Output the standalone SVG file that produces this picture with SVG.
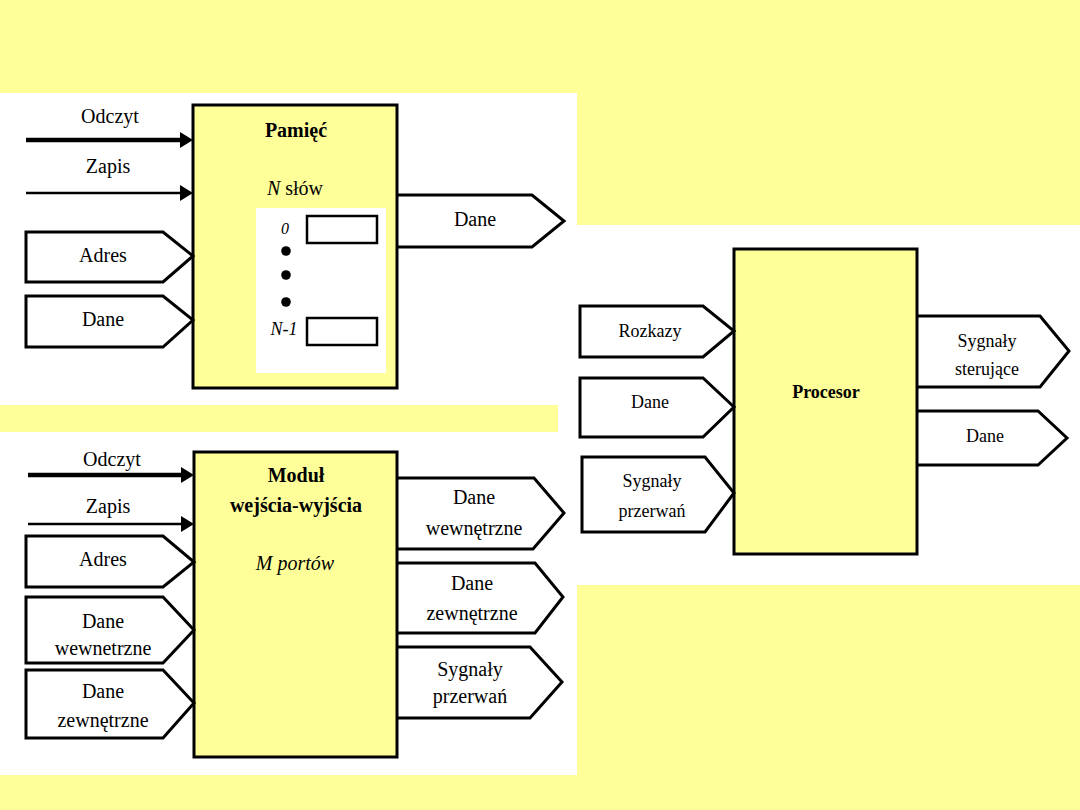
<svg xmlns="http://www.w3.org/2000/svg" width="1080" height="810" viewBox="0 0 1080 810">
<style>
.bg{fill:#FFFF99}
.panel{fill:#FFFFFF}
.box{fill:#FFFF99;stroke:#000;stroke-width:3}
.sig{fill:none;stroke:#000;stroke-width:3;stroke-linejoin:miter}
.cell{fill:#FFFFFF;stroke:#000;stroke-width:2.5}
text{font-family:"Liberation Serif","Times New Roman",serif;fill:#000;text-anchor:middle}
.t20{font-size:20px}
.t18{font-size:18px}
.b{font-weight:bold}
.i{font-style:italic}
.thick{stroke:#000;stroke-width:4.5}
.thin{stroke:#000;stroke-width:2.5}
.head{fill:#000}
</style>
<rect class="bg" x="0" y="0" width="1080" height="810"/>
<rect class="panel" x="0" y="93" width="577" height="682"/>
<rect class="panel" x="577" y="225" width="503" height="360"/>
<rect class="bg" x="0" y="405" width="558" height="27"/>

<g id="memory">
<rect class="box" x="193" y="105" width="204" height="283"/>
<text class="t20 b" x="296" y="137">Pamięć</text>
<text class="t20" x="295" y="195"><tspan class="i">N</tspan> słów</text>
<rect class="panel" x="256" y="208" width="130" height="165"/>
<rect class="cell" x="307" y="216" width="70" height="27"/>
<rect class="cell" x="307" y="318" width="70" height="27"/>
<text class="i" style="font-size:16px" x="285" y="234">0</text>
<circle cx="286" cy="251" r="4.8"/>
<circle cx="286" cy="275" r="4.8"/>
<circle cx="286" cy="302" r="4.8"/>
<text class="t18 i" x="284" y="335">N-1</text>
</g>

<g id="mem-in-adres">
<polygon class="sig" points="26,232 163,232 193,256 163,282 26,282"/>
<text class="t20" x="103" y="262">Adres</text>
</g>
<g id="mem-in-dane">
<polygon class="sig" points="26,296 163,296 193,320 163,347 26,347"/>
<text class="t20" x="103" y="326">Dane</text>
</g>
<g id="mem-out-dane">
<polyline class="sig" points="397,195 532,195 564,221 532,247 397,247"/>
<text class="t20" x="475" y="226">Dane</text>
</g>

<g id="io-module">
<rect class="box" x="194" y="452" width="203" height="305"/>
<text class="t20 b" x="296" y="482">Moduł</text>
<text class="t20 b" x="296" y="512">wejścia-wyjścia</text>
<text class="t20 i" x="295" y="570">M portów</text>
</g>

<g id="io-in-adres">
<polygon class="sig" points="26,536 163,536 194,562 163,587 26,587"/>
<text class="t20" x="103" y="566">Adres</text>
</g>
<g id="io-in-dane-wew">
<polygon class="sig" points="26,597 163,597 194,630 163,663 26,663"/>
<text class="t20" x="103" y="628">Dane</text>
<text class="t20" x="103" y="655">wewnetrzne</text>
</g>
<g id="io-in-dane-zew">
<polygon class="sig" points="26,670 163,670 194,703 163,738 26,738"/>
<text class="t20" x="103" y="698">Dane</text>
<text class="t20" x="103" y="727">zewnętrzne</text>
</g>
<g id="io-out-dane-wew">
<polyline class="sig" points="397,478 534,478 564,513 533,549 397,549"/>
<text class="t20" x="474" y="504">Dane</text>
<text class="t20" x="474" y="535">wewnętrzne</text>
</g>
<g id="io-out-dane-zew">
<polyline class="sig" points="397,563 535,563 563,597 535,633 397,633"/>
<text class="t20" x="472" y="590">Dane</text>
<text class="t20" x="472" y="620">zewnętrzne</text>
</g>
<g id="io-out-przerwania">
<polyline class="sig" points="397,647 530,647 562,682 530,718 397,718"/>
<text class="t20" x="470" y="676">Sygnały</text>
<text class="t20" x="470" y="703">przerwań</text>
</g>

<g id="processor">
<rect class="box" x="734" y="249" width="183" height="305"/>
<text class="t18 b" x="826" y="398">Procesor</text>
</g>
<g id="cpu-in-rozkazy">
<polygon class="sig" points="580,306 703,306 734,331 703,357 580,357"/>
<text class="t18" x="650" y="337">Rozkazy</text>
</g>
<g id="cpu-in-dane">
<polygon class="sig" points="580,378 703,378 734,407 703,437 580,437"/>
<text class="t18" x="650" y="408">Dane</text>
</g>
<g id="cpu-in-przerwania">
<polygon class="sig" points="582,457 705,457 734,493 705,532 582,532"/>
<text class="t18" x="652" y="487">Sygnały</text>
<text class="t18" x="652" y="517">przerwań</text>
</g>
<g id="cpu-out-sterujace">
<polyline class="sig" points="917,316 1040,316 1069,351 1040,387 917,387"/>
<text class="t18" x="987" y="347">Sygnały</text>
<text class="t18" x="987" y="375">sterujące</text>
</g>
<g id="cpu-out-dane">
<polyline class="sig" points="917,411 1038,411 1067,438 1038,465 917,465"/>
<text class="t18" x="985" y="442">Dane</text>
</g>

<g id="connectors">
<line class="thick" x1="26" y1="140" x2="181" y2="140"/>
<polygon class="head" points="180,132 193,140 180,148"/>
<text class="t20" x="110" y="123">Odczyt</text>
<line class="thin" x1="26" y1="193" x2="181" y2="193"/>
<polygon class="head" points="180,185 193,193 180,201"/>
<text class="t20" x="108" y="173">Zapis</text>
<line class="thick" x1="28" y1="475" x2="182" y2="475"/>
<polygon class="head" points="181,467 194,475 181,483"/>
<text class="t20" x="112" y="466">Odczyt</text>
<line class="thin" x1="28" y1="524" x2="182" y2="524"/>
<polygon class="head" points="181,516 194,524 181,532"/>
<text class="t20" x="108" y="513">Zapis</text>
</g>
</svg>
